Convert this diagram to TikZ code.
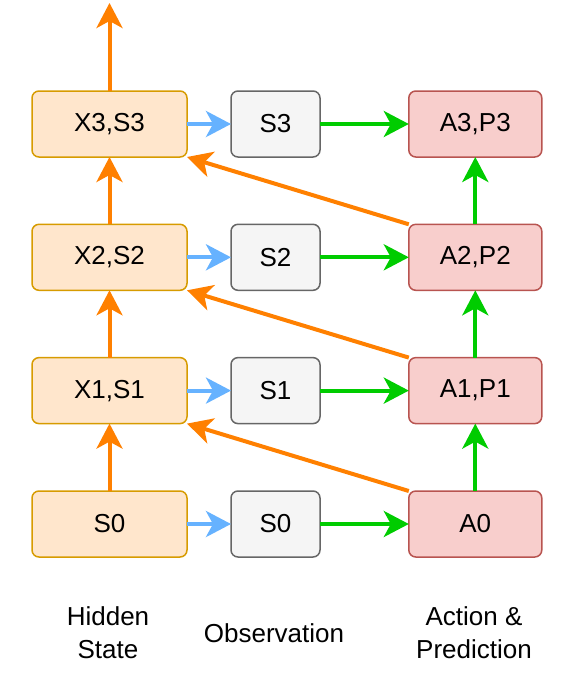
\documentclass[tikz,border=0pt]{standalone}
\usepackage{fontspec}
\setmainfont{Liberation Sans}
\usetikzlibrary{arrows.meta}
\definecolor{hidfill}{HTML}{FFE6CC}
\definecolor{hiddraw}{HTML}{D79B00}
\definecolor{obsfill}{HTML}{F5F5F5}
\definecolor{obsdraw}{HTML}{666666}
\definecolor{actfill}{HTML}{F8CECC}
\definecolor{actdraw}{HTML}{B85450}
\definecolor{orangeline}{HTML}{FF8000}
\definecolor{blueline}{HTML}{66B2FF}
\definecolor{greenline}{HTML}{00CC00}
\begin{document}
\begin{tikzpicture}[x=1pt,y=-1pt,
  box/.style={rectangle, rounded corners=7pt, line width=1.5pt, minimum height=66pt,
    outer sep=0pt, inner sep=0pt, font=\fontsize{26}{33}\selectfont},
  hidbox/.style={box, fill=hidfill, draw=hiddraw, minimum width=155pt},
  obsbox/.style={box, fill=obsfill, draw=obsdraw, minimum width=89pt},
  actbox/.style={box, fill=actfill, draw=actdraw, minimum width=133pt},
  arr/.style={line width=4pt, -{Stealth[length=25pt,width=26pt,inset=7pt]}},
  oarr/.style={arr, draw=orangeline, fill=orangeline},
  barr/.style={arr, draw=blueline, fill=blueline},
  garr/.style={arr, draw=greenline, fill=greenline},
  lbl/.style={font=\fontsize{26}{33}\selectfont, align=center, inner sep=0pt}
]
\useasboundingbox (0,0) rectangle (560,688);
% rows
\node[hidbox] (H0) at (109.5,524) {S0};
\node[hidbox] (H1) at (109.5,390.6) {X1,S1};
\node[hidbox] (H2) at (109.5,257.3) {X2,S2};
\node[hidbox] (H3) at (109.5,124) {X3,S3};
\node[obsbox] (O0) at (275.5,524) {S0};
\node[obsbox] (O1) at (275.5,390.6) {S1};
\node[obsbox] (O2) at (275.5,257.3) {S2};
\node[obsbox] (O3) at (275.5,124) {S3};
\node[actbox] (A0) at (475.3,524) {A0};
\node[actbox] (A1) at (475.3,390.6) {A1,P1};
\node[actbox] (A2) at (475.3,257.3) {A2,P2};
\node[actbox] (A3) at (475.3,124) {A3,P3};
\coordinate (top) at (109.5,3);
% connectors
\draw[oarr] (H3.north) -- (top);
\draw[oarr] (H0.north) -- (H1.south);
\draw[oarr] (H1.north) -- (H2.south);
\draw[oarr] (H2.north) -- (H3.south);
\draw[oarr] (A0.north west) -- (H1.south east);
\draw[oarr] (A1.north west) -- (H2.south east);
\draw[oarr] (A2.north west) -- (H3.south east);
\foreach \i in {0,1,2,3}{
  \draw[barr] (H\i.east) -- (O\i.west);
  \draw[garr] (O\i.east) -- (A\i.west);
}
\draw[garr] (A0.north) -- (A1.south);
\draw[garr] (A1.north) -- (A2.south);
\draw[garr] (A2.north) -- (A3.south);
% labels
\node[lbl] (lh) at (108,633) {Hidden\\State};
\node[lbl] (lo) at (274,633) {Observation};
\node[lbl] (la) at (474,633) {Action \&\\Prediction};
\end{tikzpicture}
\end{document}
